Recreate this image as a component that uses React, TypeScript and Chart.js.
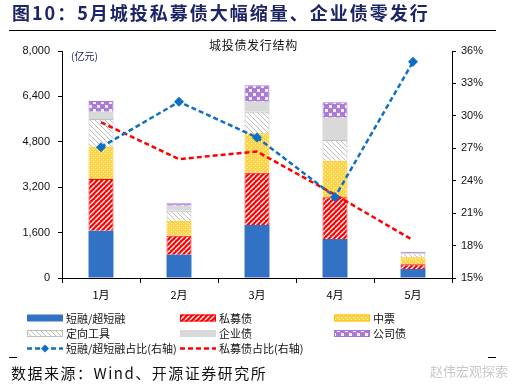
import React, { useEffect, useRef } from 'react';
import { Chart, registerables } from 'chart.js';

Chart.register(...registerables);

const categories = ['1月', '2月', '3月', '4月', '5月'];
const shortTermValues = [1667, 821, 1868, 1375, 317];
const privateBondValues = [1822, 670, 1844, 1470, 166];
const mtnValues = [1139, 529, 1389, 1290, 247];
const ppnValues = [976, 352, 761, 730, 141];
const enterpriseBondValues = [257, 176, 352, 786, 0];
const corporateBondValues = [377, 85, 578, 543, 56];
const shortTermShare = [27.1, 31.3, 28.0, 22.5, 35.0];
const privateBondShare = [29.4, 26.0, 26.7, 22.7, 18.5];
const leftAxisRange = { min: 0, max: 8000, step: 1600 };
const rightAxisRange = { min: 15, max: 36, step: 3 };

const CJK = '"Noto Sans CJK SC", "Noto Sans", sans-serif';
const LATIN = '"Liberation Sans", Arial, sans-serif';

function makePattern(size: number, draw: (g: CanvasRenderingContext2D, s: number) => void): CanvasPattern {
  const c = document.createElement('canvas');
  c.width = size;
  c.height = size;
  const g = c.getContext('2d') as CanvasRenderingContext2D;
  draw(g, size);
  return g.createPattern(c, 'repeat') as CanvasPattern;
}

function diag(g: CanvasRenderingContext2D, s: number, dir: '/' | '\\') {
  g.beginPath();
  for (const o of [-s, 0, s]) {
    if (dir === '/') {
      g.moveTo(o, s);
      g.lineTo(o + s, 0);
    } else {
      g.moveTo(o, 0);
      g.lineTo(o + s, s);
    }
  }
  g.stroke();
}

const legendPlugin = {
  id: 'gridLegend',
  afterDraw(chart: any) {
    const ctx: CanvasRenderingContext2D = chart.ctx;
    const cols = [27, 180, 334];
    const rows = [318, 333.5, 348.5];
    ctx.save();
    chart.data.datasets.forEach((ds: any, i: number) => {
      const x = cols[i % 3];
      const y = rows[Math.floor(i / 3)];
      if (ds.type === 'line') {
        ctx.strokeStyle = ds.borderColor;
        ctx.lineWidth = 2.5;
        ctx.setLineDash([5, 3]);
        ctx.beginPath();
        ctx.moveTo(x, y);
        ctx.lineTo(x + 36, y);
        ctx.stroke();
        ctx.setLineDash([]);
        if (ds.pointRadius > 0) {
          const cx = x + 18;
          const r = 4;
          ctx.fillStyle = ds.borderColor;
          ctx.beginPath();
          ctx.moveTo(cx - r, y);
          ctx.lineTo(cx, y - r);
          ctx.lineTo(cx + r, y);
          ctx.lineTo(cx, y + r);
          ctx.closePath();
          ctx.fill();
        }
      } else {
        ctx.fillStyle = ds.backgroundColor;
        ctx.fillRect(x, y - 3.5, 36, 7);
        if (ds.borderWidth) {
          ctx.strokeStyle = ds.borderColor;
          ctx.lineWidth = 1;
          ctx.strokeRect(x + 0.5, y - 3, 35, 6);
        }
      }
      ctx.fillStyle = '#111';
      ctx.font = '11px ' + CJK;
      ctx.textBaseline = 'middle';
      ctx.textAlign = 'left';
      ctx.fillText(ds.label, x + 39, y + 0.5);
    });
    ctx.restore();
  },
};

export default function App() {
  const ref = useRef<HTMLCanvasElement | null>(null);

  useEffect(() => {
    const canvas = ref.current;
    if (!canvas) return;

    const redHatch = makePattern(5, (g, s) => {
      g.fillStyle = '#FF0000';
      g.fillRect(0, 0, s, s);
      g.strokeStyle = '#FFFFFF';
      g.lineWidth = 1.3;
      diag(g, s, '/');
    });
    const grayHatch = makePattern(5, (g, s) => {
      g.fillStyle = '#FFFFFF';
      g.fillRect(0, 0, s, s);
      g.strokeStyle = '#BDBDBD';
      g.lineWidth = 1;
      diag(g, s, '\\');
    });
    const yellowDots = makePattern(4, (g, s) => {
      g.fillStyle = '#FFD447';
      g.fillRect(0, 0, s, s);
      g.fillStyle = '#FFF6D8';
      g.fillRect(1, 1, 1, 1);
      g.fillRect(3, 3, 1, 1);
    });
    const purpleChecks = makePattern(8, (g, s) => {
      g.fillStyle = '#A97CD8';
      g.fillRect(0, 0, s, s);
      g.fillStyle = '#F4EEFB';
      g.fillRect(1, 1, 3, 3);
      g.fillRect(5, 5, 3, 3);
    });

    const barBase = { type: 'bar' as const, yAxisID: 'y', order: 2, stack: 's' };

    const chart = new Chart(canvas, {
      data: {
        labels: categories,
        datasets: [
          { ...barBase, label: '短融/超短融', data: shortTermValues, backgroundColor: '#3272C5', borderWidth: 0 },
          { ...barBase, label: '私募债', data: privateBondValues, backgroundColor: redHatch, borderColor: '#FF0000', borderWidth: 1 },
          { ...barBase, label: '中票', data: mtnValues, backgroundColor: yellowDots, borderColor: '#FFC000', borderWidth: 1 },
          { ...barBase, label: '定向工具', data: ppnValues, backgroundColor: grayHatch, borderColor: '#BFBFBF', borderWidth: 1 },
          { ...barBase, label: '企业债', data: enterpriseBondValues, backgroundColor: '#D9D9D9', borderWidth: 0 },
          { ...barBase, label: '公司债', data: corporateBondValues, backgroundColor: purpleChecks, borderColor: '#A673D6', borderWidth: 1 },
          {
            type: 'line', label: '短融/超短融占比(右轴)', data: shortTermShare, yAxisID: 'y1', order: 0,
            borderColor: '#0E6FC6', backgroundColor: '#0E6FC6', borderWidth: 2.5, borderDash: [5, 3],
            pointStyle: 'rectRot', pointRadius: 5, pointBorderWidth: 0, pointBackgroundColor: '#0E6FC6',
            fill: false, tension: 0,
          },
          {
            type: 'line', label: '私募债占比(右轴)', data: privateBondShare, yAxisID: 'y1', order: 1,
            borderColor: '#FF0000', backgroundColor: '#FF0000', borderWidth: 2.5, borderDash: [5, 3],
            pointRadius: 0, fill: false, tension: 0,
          },
        ] as any,
      },
      options: {
        responsive: false,
        animation: false,
        layout: { padding: { top: 51, left: 0, right: 0, bottom: 0 } },
        plugins: { legend: { display: false }, tooltip: { enabled: false }, title: { display: false } },
        datasets: { bar: { barPercentage: 0.32, categoryPercentage: 1 } },
        scales: {
          x: {
            stacked: true,
            afterFit: (s: any) => { s.height = 114; },
            grid: { offset: true, drawOnChartArea: false, drawTicks: true, tickLength: 5, color: '#000' },
            border: { display: true, color: '#000', width: 1 },
            ticks: { color: '#000', padding: 5, font: { family: CJK, size: 11 } },
          },
          y: {
            position: 'left',
            stacked: true,
            min: leftAxisRange.min,
            max: leftAxisRange.max,
            afterFit: (s: any) => { s.width = 62; },
            grid: { drawOnChartArea: false, drawTicks: true, tickLength: 4, color: '#000' },
            border: { display: true, color: '#000', width: 1 },
            ticks: {
              stepSize: leftAxisRange.step,
              color: '#111',
              padding: 8,
              font: { family: LATIN, size: 11 },
              callback: (v: any) => Number(v).toLocaleString('en-US'),
            },
          },
          y1: {
            position: 'right',
            min: rightAxisRange.min,
            max: rightAxisRange.max,
            afterFit: (s: any) => { s.width = 65; },
            grid: { drawOnChartArea: false, drawTicks: true, tickLength: 4, color: '#000' },
            border: { display: true, color: '#000', width: 1 },
            ticks: {
              stepSize: rightAxisRange.step,
              color: '#111',
              padding: 5,
              font: { family: LATIN, size: 11 },
              callback: (v: any) => `${v}%`,
            },
          },
        },
      } as any,
      plugins: [legendPlugin],
    });

    return () => chart.destroy();
  }, []);

  return (
    <div style={{ position: 'absolute', left: 0, top: 0, width: 517, height: 392, background: '#fff', overflow: 'hidden', fontFamily: CJK }}>
      <canvas ref={ref} width={517} height={392} style={{ position: 'absolute', left: 0, top: 0, width: 517, height: 392 }} />
      <div style={{ position: 'absolute', left: 12, top: 1, fontSize: 18, fontWeight: 700, lineHeight: '22px', letterSpacing: 2, color: '#1c2566', whiteSpace: 'nowrap' }}>
        图10：5月城投私募债大幅缩量、企业债零发行
      </div>
      <div style={{ position: 'absolute', left: 9, top: 30, width: 487, height: 1, background: '#000' }} />
      <div style={{ position: 'absolute', left: 209, top: 37, fontSize: 12, lineHeight: '16px', letterSpacing: 0.7, color: '#111', whiteSpace: 'nowrap' }}>
        城投债发行结构
      </div>
      <div style={{ position: 'absolute', left: 71, top: 49, fontSize: 10, lineHeight: '14px', color: '#1c2566', whiteSpace: 'nowrap' }}>
        (亿元)
      </div>
      <div style={{ position: 'absolute', left: 9, top: 357, width: 8, height: 1, background: '#000' }} />
      <div style={{ position: 'absolute', left: 488, top: 357, width: 8, height: 1, background: '#000' }} />
      <div style={{ position: 'absolute', left: 11, top: 363, fontSize: 15, lineHeight: '20px', letterSpacing: 1.5, color: '#111', whiteSpace: 'nowrap' }}>
        数据来源：Wind、开源证券研究所
      </div>
      <div style={{ position: 'absolute', left: 430, top: 362, fontSize: 13, lineHeight: '18px', color: '#c8c8c8', whiteSpace: 'nowrap' }}>
        赵伟宏观探索
      </div>
    </div>
  );
}
